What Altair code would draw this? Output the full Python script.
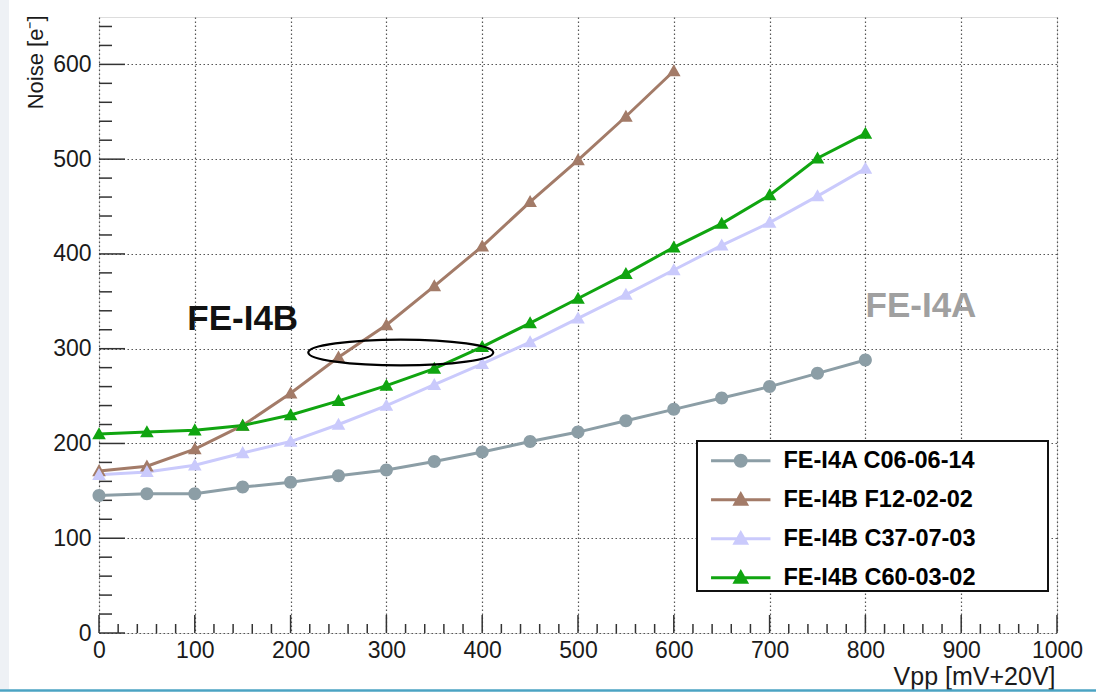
import altair as alt
import pandas as pd

# ---------------- data ----------------
x_vals = [0, 50, 100, 150, 200, 250, 300, 350, 400, 450, 500, 550, 600, 650, 700, 750, 800]
x_vals_f12 = [0, 50, 100, 150, 200, 250, 300, 350, 400, 450, 500, 550, 600]

series_names = ["FE-I4A C06-06-14", "FE-I4B F12-02-02", "FE-I4B C37-07-03", "FE-I4B C60-03-02"]
noise_c06 = [145, 147, 147, 154, 159, 166, 172, 181, 191, 202, 212, 224, 236, 248, 260, 274, 288]
noise_f12 = [171, 176, 194, 219, 253, 291, 325, 366, 408, 455, 499, 545, 593]
noise_c37 = [167, 170, 177, 190, 202, 220, 240, 262, 284, 307, 332, 357, 383, 409, 433, 461, 490]
noise_c60 = [210, 212, 214, 219, 230, 245, 261, 279, 302, 327, 353, 379, 407, 432, 462, 501, 527]
series_colors = ["#8c9ea6", "#a37b68", "#cacafc", "#10a510"]

x_major = [0, 100, 200, 300, 400, 500, 600, 700, 800, 900, 1000]
y_major = [0, 100, 200, 300, 400, 500, 600]
x_minor = [v for v in range(0, 1001, 20) if v % 100]
y_minor = [v for v in range(0, 641, 20) if v % 100]

annot_text = ["FE-I4B", "FE-I4A"]
annot_x = [150, 858]
annot_y = [331, 345]
annot_color = ["#111111", "#a0a0a0"]

ellipse_x = [315]
ellipse_y = [296]

# ---------------- tables ----------------
rows = []
for name, xs, ys in zip(series_names,
                        [x_vals, x_vals_f12, x_vals, x_vals],
                        [noise_c06, noise_f12, noise_c37, noise_c60]):
    for xv, yv in zip(xs, ys):
        rows.append({"x": xv, "y": yv, "series": name})
df = pd.DataFrame(rows)

df_xmaj = pd.DataFrame({"x": x_major})
df_xmin = pd.DataFrame({"x": x_minor})
df_ymaj = pd.DataFrame({"y": y_major})
df_ymin = pd.DataFrame({"y": y_minor})
df_text = pd.DataFrame({"x": annot_x, "y": annot_y, "t": annot_text, "c": annot_color})
df_ell = pd.DataFrame({"x": ellipse_x, "y": ellipse_y})

W, H = 958, 616
FONT = "Liberation Sans"

CIRCLE = "M -5.4 0 L 5.4 0 M -1 0 A 1 1 0 1 0 1 0 A 1 1 0 1 0 -1 0 Z"
TRI = "M -5.4 0 L 5.4 0 M 0 -1.05 L 1.05 0.8 L -1.05 0.8 Z"
ELLIPSE = "M -1 0 A 1 0.14 0 1 0 1 0 A 1 0.14 0 1 0 -1 0 Z"

x_scale = alt.Scale(domain=[0, 1000], nice=False, zero=False)
y_scale = alt.Scale(domain=[0, 650], nice=False, zero=False)

x_axis = alt.Axis(values=x_major, format="d", title="Vpp [mV+20V]", grid=True, ticks=False,
                  tickSize=0, domain=False, labelFlush=False, labelOverlap=False, labelPadding=6,
                  labelFontSize=23, labelFont=FONT, labelColor="#1a1a1a",
                  gridDash=[1.5, 2.5], gridColor="#555", gridWidth=1.2,
                  titleFont=FONT, titleFontSize=25, titleFontWeight="normal", titleColor="#1a1a1a",
                  titleX=956, titleY=51, titleAlign="right", titleBaseline="alphabetic")
y_axis = alt.Axis(values=y_major, format="d", title="Noise [e\u207b]", grid=True, ticks=False,
                  tickSize=0, domain=False, labelFlush=False, labelOverlap=False, labelPadding=8,
                  labelFontSize=23, labelFont=FONT, labelColor="#1a1a1a",
                  gridDash=[1.5, 2.5], gridColor="#555", gridWidth=1.2,
                  titleFont=FONT, titleFontSize=22, titleFontWeight="normal", titleColor="#1a1a1a",
                  titleAngle=270, titleX=-57, titleY=-2, titleAlign="right",
                  titleBaseline="alphabetic")


def X(field="x"):
    return alt.X(f"{field}:Q", scale=x_scale, axis=x_axis)


def Y(field="y"):
    return alt.Y(f"{field}:Q", scale=y_scale, axis=y_axis)


color_scale = alt.Scale(domain=series_names, range=series_colors)
shape_scale = alt.Scale(domain=series_names, range=[CIRCLE, TRI, TRI, TRI])

legend = alt.Legend(title=None, orient="none", legendX=598, legendY=422,
                    labelFont=FONT, labelFontSize=23.5, labelFontWeight="bold", labelColor="black",
                    labelLimit=600,
                    symbolSize=121, symbolStrokeWidth=3, symbolOffset=22, labelOffset=31,
                    rowPadding=14, padding=10)

# legend frame box (white, drawn over the grid, under the legend entries)
legend_box = alt.Chart(df_ell).mark_rect(fill="white", stroke="#111", strokeWidth=2).encode(
    x=alt.value(598), x2=alt.value(949), y=alt.value(424), y2=alt.value(574))

lines = alt.Chart(df).mark_line(strokeWidth=3).encode(
    x=X(), y=Y(),
    stroke=alt.Stroke("series:N", scale=color_scale, legend=legend),
    order="x:Q",
)

points = alt.Chart(df).mark_point(filled=True, size=169, opacity=1).encode(
    x=X(), y=Y(),
    fill=alt.Fill("series:N", scale=color_scale, legend=legend),
    shape=alt.Shape("series:N", scale=shape_scale, legend=legend),
    strokeOpacity=alt.value(0),
)

tick_style = dict(color="#333", strokeWidth=1.5)
xt_major = alt.Chart(df_xmaj).mark_rule(**tick_style).encode(
    x=X(), y=alt.value(H), y2=alt.value(H - 18))
xt_minor = alt.Chart(df_xmin).mark_rule(**tick_style).encode(
    x=X(), y=alt.value(H), y2=alt.value(H - 9))
yt_major = alt.Chart(df_ymaj).mark_rule(**tick_style).encode(
    y=Y(), x=alt.value(0), x2=alt.value(26))
yt_minor = alt.Chart(df_ymin).mark_rule(**tick_style).encode(
    y=Y(), x=alt.value(0), x2=alt.value(13))

texts = alt.Chart(df_text).mark_text(font=FONT, fontSize=35, fontWeight="bold").encode(
    x=X(), y=Y(), text="t:N", color=alt.Color("c:N", scale=None, legend=None))

ellipse = alt.Chart(df_ell).mark_point(shape=ELLIPSE, size=185 * 185, filled=False,
                                       strokeWidth=2.2, color="black", opacity=1).encode(
    x=X(), y=Y())

# screenshot frame decorations (left light strip, bottom teal line)
left_strip = alt.Chart(df_ell).mark_rule(color="#eef1f5", strokeWidth=9).encode(
    x=alt.value(-94.5), y=alt.value(-17), y2=alt.value(H + 56))
bottom_line = alt.Chart(df_ell).mark_rule(color="#4ba3c3", strokeWidth=2.5).encode(
    x=alt.value(-99), x2=alt.value(W + 39), y=alt.value(H + 57.5))

chart = alt.layer(
    left_strip, bottom_line,
    xt_major, xt_minor, yt_major, yt_minor, lines, points, texts, ellipse, legend_box
).properties(
    width=W, height=H,
    autosize=alt.AutoSizeParams(type="none"),
    padding={"left": 99, "top": 17, "right": 39, "bottom": 59},
    background="white",
).configure_view(stroke="#555", strokeWidth=2.5).configure(font=FONT)

chart.save("out.html", embed_options={"renderer": "svg", "actions": False})
